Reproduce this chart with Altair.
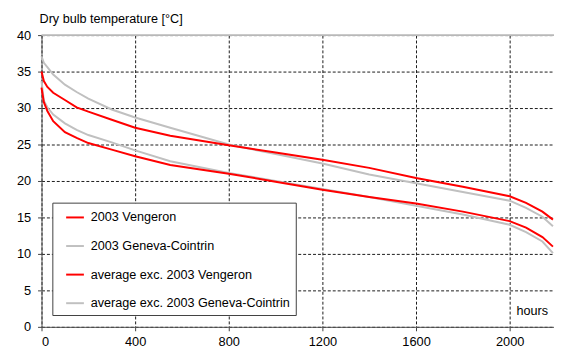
import altair as alt
import pandas as pd

hours = [0, 10, 25, 50, 100, 150, 200, 300, 400, 550, 800, 1000, 1200, 1400, 1600, 1800, 2000, 2070, 2140, 2185]

vengeron_2003 = [35.0, 33.7, 32.9, 32.1, 31.1, 30.1, 29.5, 28.4, 27.3, 26.2, 24.9, 23.9, 22.9, 21.8, 20.4, 19.2, 17.9, 17.0, 15.8, 14.7]
geneva_2003 = [37.1, 36.2, 35.6, 34.6, 33.2, 32.2, 31.3, 29.8, 28.7, 27.3, 25.0, 23.7, 22.4, 20.9, 19.7, 18.5, 17.3, 16.3, 15.1, 13.8]
vengeron_avg = [32.8, 30.8, 29.6, 28.2, 26.7, 25.9, 25.2, 24.3, 23.4, 22.2, 21.0, 19.9, 18.8, 17.8, 16.9, 15.8, 14.5, 13.6, 12.3, 11.0]
geneva_avg = [33.7, 31.0, 30.1, 29.1, 27.9, 27.0, 26.3, 25.3, 24.2, 22.7, 21.1, 20.0, 18.9, 17.8, 16.6, 15.4, 14.0, 13.0, 11.7, 10.1]

series_names = ["2003 Vengeron", "2003 Geneva-Cointrin",
                "average exc. 2003 Vengeron", "average exc. 2003 Geneva-Cointrin"]
series_colors = ["#ff0000", "#c0c0c0", "#ff0000", "#c0c0c0"]
series_values = [vengeron_2003, geneva_2003, vengeron_avg, geneva_avg]

x_ticks = [0, 400, 800, 1200, 1600, 2000]
y_ticks = [0, 5, 10, 15, 20, 25, 30, 35, 40]
title_text = ["Dry bulb temperature [°C]"]
xlabel_text = ["hours"]

rows = []
for name, vals in zip(series_names, series_values):
    for h, v in zip(hours, vals):
        rows.append({"hours": h, "temp": v, "series": name})
df = pd.DataFrame(rows)

W = 520
H = 296
X_MAX = W * 400 / 95
FONT = "Liberation Sans"

grid_style = dict(grid=True, gridColor="#1a1a1a", gridDash=[3, 2], gridWidth=1, gridOpacity=1)

x_enc = alt.X("hours:Q", scale=alt.Scale(domain=[0, X_MAX], nice=False, zero=False),
              axis=alt.Axis(values=x_ticks, title=None, labelPadding=5, format="d", **grid_style))
y_enc = alt.Y("temp:Q", scale=alt.Scale(domain=[0, 40], nice=False),
              axis=alt.Axis(values=y_ticks, title=None, labelPadding=7, format="d", **grid_style))
color_enc = alt.Color("series:N",
                      scale=alt.Scale(domain=series_names, range=series_colors),
                      legend=alt.Legend(title=None, orient="none", legendX=11, legendY=170,
                                        symbolType="stroke", symbolSize=324, symbolStrokeWidth=2,
                                        symbolOffset=8, labelOffset=6, rowPadding=12,
                                        padding=5, strokeColor="#404040", fillColor="white",
                                        labelFont=FONT, labelFontSize=12.8, labelColor="black",
                                        labelLimit=400))

base = alt.Chart(df)
gray_lines = base.transform_filter(
    alt.FieldOneOfPredicate(field="series", oneOf=[series_names[1], series_names[3]])
).mark_line(strokeWidth=2).encode(x=x_enc, y=y_enc, color=color_enc, detail="series:N")
red_lines = base.transform_filter(
    alt.FieldOneOfPredicate(field="series", oneOf=[series_names[0], series_names[2]])
).mark_line(strokeWidth=2).encode(x=x_enc, y=y_enc, color=color_enc, detail="series:N")

top_rule = alt.Chart(pd.DataFrame({"t": [0]})).mark_rule(color="#b8b8b8", strokeWidth=2).encode(
    y=alt.value(0), x=alt.value(0), x2=alt.value(W))

title_mark = alt.Chart(pd.DataFrame({"t": title_text})).mark_text(
    align="left", baseline="alphabetic", font=FONT, fontSize=12.8, color="black"
).encode(text="t:N", x=alt.value(-2), y=alt.value(-12))

hours_mark = alt.Chart(pd.DataFrame({"t": xlabel_text})).mark_text(
    align="right", baseline="alphabetic", font=FONT, fontSize=12.8, color="black"
).encode(text="t:N", x=alt.value(W - 6), y=alt.value(H - 12))

chart = alt.layer(top_rule, gray_lines, red_lines, title_mark, hours_mark).properties(
    width=W, height=H,
    autosize=alt.AutoSizeParams(type="none"),
    padding={"left": 34, "top": 25, "right": 0, "bottom": 22},
).configure_view(stroke=None).configure_axis(
    labelFont=FONT, labelFontSize=13, labelColor="black",
    domainColor="#505050", domainWidth=1,
    tickColor="#404040", tickSize=4,
)

chart.save("out.html", embed_options={"renderer": "svg", "actions": False})
